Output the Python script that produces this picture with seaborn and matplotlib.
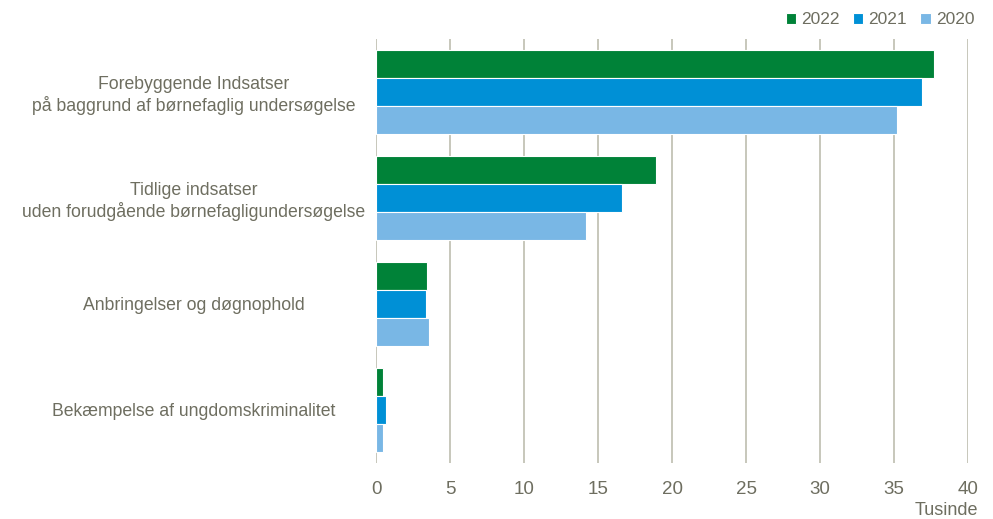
import pandas as pd
import matplotlib.pyplot as plt
import seaborn as sns

# Data
kategorier = [
    "Forebyggende Indsatser\npå baggrund af børnefaglig undersøgelse",
    "Tidlige indsatser\nuden forudgående børnefagligundersøgelse",
    "Anbringelser og døgnophold",
    "Bekæmpelse af ungdomskriminalitet",
]
aar = ["2022", "2021", "2020"]
vaerdier_2022 = [37.7, 18.9, 3.45, 0.48]
vaerdier_2021 = [36.9, 16.6, 3.38, 0.66]
vaerdier_2020 = [35.2, 14.2, 3.58, 0.48]
x_ticks = [0, 5, 10, 15, 20, 25, 30, 35, 40]

df = pd.DataFrame({
    "Kategori": kategorier * 3,
    "Aar": [a for a in aar for _ in kategorier],
    "Vaerdi": vaerdier_2022 + vaerdier_2021 + vaerdier_2020,
})

farver = {"2022": "#008238", "2021": "#0090D6", "2020": "#79B7E5"}
tekst_farve = "#6E6E60"
grid_farve = "#BDBDAF"

sns.set_theme(style="white")
plt.rcParams["font.family"] = ["Liberation Sans", "DejaVu Sans"]

fig = plt.figure(figsize=(9.93, 5.19), dpi=100)
ax = fig.add_axes([0.3787, 0.108, 0.5963, 0.817])

sns.barplot(
    data=df, x="Vaerdi", y="Kategori", hue="Aar",
    hue_order=aar, order=kategorier, palette=farver,
    orient="h", width=0.79, edgecolor="white", linewidth=0.8,
    saturation=1, ax=ax,
)

ax.set_xlim(0, 40)
ax.set_ylim(3.5, -0.5)
ax.set_xticks(x_ticks)
ax.xaxis.grid(True, color=grid_farve, linewidth=1.2)
ax.set_axisbelow(True)
for s in ax.spines.values():
    s.set_visible(False)

ax.set_xlabel("")
ax.set_ylabel("")
ax.tick_params(axis="both", length=0, labelsize=12.7, colors=tekst_farve)
ax.tick_params(axis="x", pad=13, labelsize=13.5)
for lbl in ax.get_yticklabels():
    lbl.set_horizontalalignment("center")
    lbl.set_multialignment("center")
    lbl.set_x(-0.30)

fig.text(0.985, 0.0, "Tusinde", ha="right", va="bottom",
         fontsize=13, color=tekst_farve)

sns.move_legend(
    ax, "center right", bbox_to_anchor=(1.022, 1.045), ncol=3, frameon=False,
    title=None, fontsize=12.5, handlelength=0.6, handleheight=0.6,
    handletextpad=0.3, columnspacing=0.75, labelcolor=tekst_farve,
    borderaxespad=0,
)

plt.savefig("out.png", dpi=100)
